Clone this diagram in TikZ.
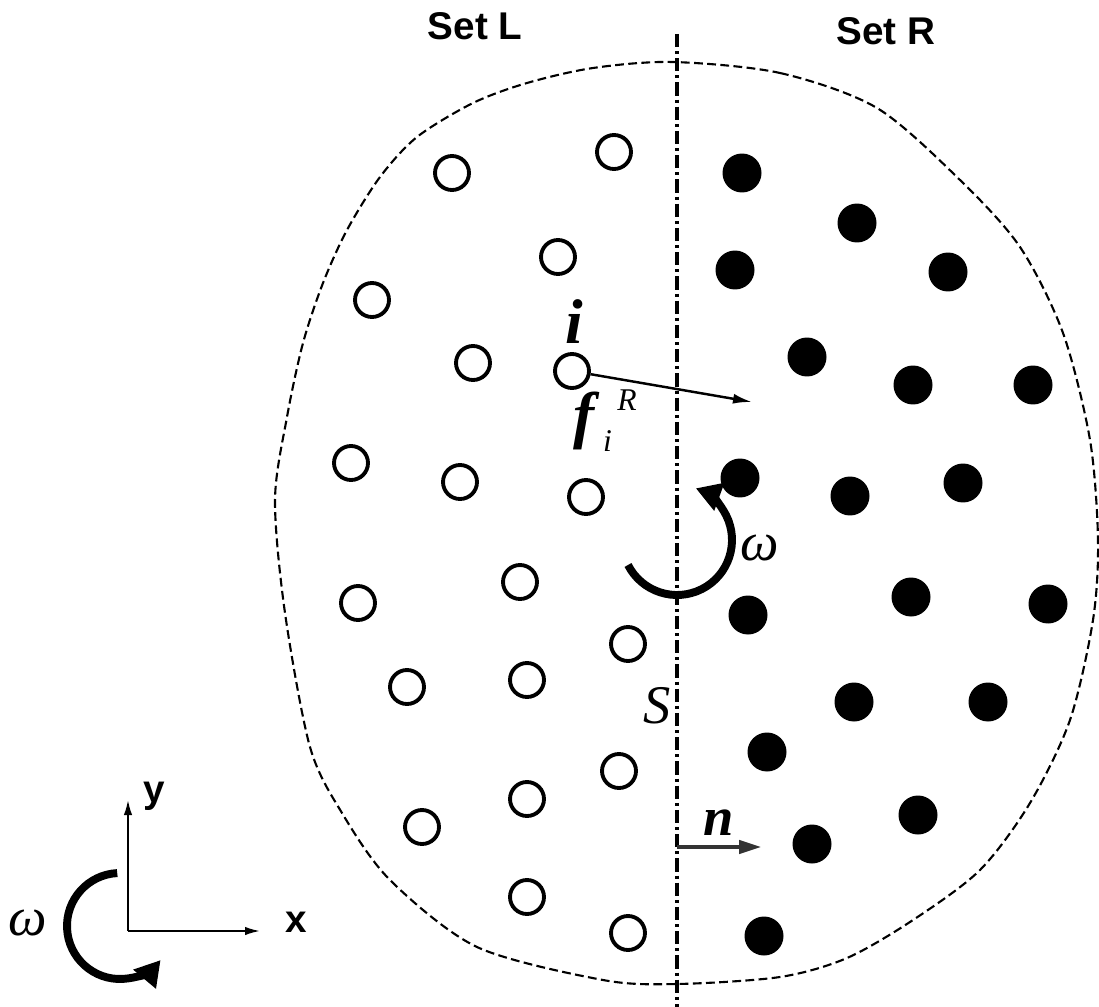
\documentclass[tikz,border=0pt]{standalone}
\usepackage{fontspec}
\setmainfont{Liberation Serif}
\newfontfamily\labelfont{Liberation Sans}
\usetikzlibrary{arrows.meta}

\begin{document}
\begin{tikzpicture}[x=0.02cm, y=-0.02cm,
  lp/.style = {draw, circle, line width=2.2pt, minimum size=0.68cm, inner sep=0pt},
  rp/.style = {fill, circle, minimum size=0.78cm, inner sep=0pt},
  setlabel/.style = {inner sep=0pt, anchor=base, font=\labelfont\bfseries\fontsize{22}{26}\selectfont},
  axlabel/.style = {inner sep=0pt, anchor=base west, font=\labelfont\bfseries\fontsize{22}{26}\selectfont},
  sym/.style = {inner sep=0pt, anchor=base west, font=\itshape\fontsize{31}{36}\selectfont},
  boldsym/.style = {sym, font=\bfseries\itshape\fontsize{31}{36}\selectfont},
  bigsym/.style = {sym, font=\bfseries\itshape\fontsize{36}{40}\selectfont},
  spin/.style = {line width=4.5pt, -{Triangle[length=0.5cm, width=0.56cm]}},
  axis/.style = {line width=1.1pt, -{Latex[length=0.3cm, width=0.17cm]}}]
  \useasboundingbox (0,0) rectangle (1099,1007);
  % outer boundary
  \draw[line width=1.2pt, dash pattern=on 5pt off 2.5pt] plot[smooth cycle] coordinates {
    (673,62) (780,73) (877,108) (960,180) (1020,247) (1063,333) (1090,440)
    (1098,540) (1093,620) (1070,720) (1030,803) (980,870) (913,920) (847,958)
    (780,977) (677,984) (603,980) (477,947) (390,880) (342,813) (310,747)
    (285,613) (275,500) (287,417) (303,343) (323,283) (347,230) (380,177)
    (417,137) (473,103) (527,83) (593,68)};
  % surface S
  \coordinate (stop) at (677,34);
  \coordinate (sbot) at (677,1007);
  \draw[line width=2.2pt, dash pattern=on 7.5pt off 2.3pt on 1.7pt off 2.3pt] (stop) to (sbot);
  % set L
  \node[lp] (l1) at (614,152) {};
  \node[lp] (l2) at (452,173) {};
  \node[lp] (l3) at (558,257) {};
  \node[lp] (l4) at (372,300) {};
  \node[lp] (l5) at (473,363) {};
  \node[lp] (l6) at (572,371) {};
  \node[lp] (l7) at (351,463) {};
  \node[lp] (l8) at (460,482) {};
  \node[lp] (l9) at (586,497) {};
  \node[lp] (l10) at (520,582) {};
  \node[lp] (l11) at (358,603) {};
  \node[lp] (l12) at (628,644) {};
  \node[lp] (l13) at (407,687) {};
  \node[lp] (l14) at (527,680) {};
  \node[lp] (l15) at (619,771) {};
  \node[lp] (l16) at (527,799) {};
  \node[lp] (l17) at (422,827) {};
  \node[lp] (l18) at (527,897) {};
  \node[lp] (l19) at (628,933) {};
  % set R
  \node[rp] (r1) at (742,173) {};
  \node[rp] (r2) at (857,223) {};
  \node[rp] (r3) at (735,270) {};
  \node[rp] (r4) at (948,272) {};
  \node[rp] (r5) at (807,357) {};
  \node[rp] (r6) at (913,385) {};
  \node[rp] (r7) at (1033,385) {};
  \node[rp] (r8) at (740,478) {};
  \node[rp] (r9) at (850,496) {};
  \node[rp] (r10) at (963,483) {};
  \node[rp] (r11) at (911,597) {};
  \node[rp] (r12) at (748,615) {};
  \node[rp] (r13) at (1048,604) {};
  \node[rp] (r14) at (854,702) {};
  \node[rp] (r15) at (988,702) {};
  \node[rp] (r16) at (767,752) {};
  \node[rp] (r17) at (918,815) {};
  \node[rp] (r18) at (812,844) {};
  \node[rp] (r19) at (764,936) {};
  % labels
  \node[setlabel] (setl) at (475,40) {Set L};
  \node[setlabel] (setr) at (886,45) {Set R};
  \node[bigsym, anchor=base] (ilab) at (574,343) {i};
  \node[bigsym] (flab) at (573,436) {f\kern5pt\rlap{\kern8pt\raisebox{14.7pt}{\fontsize{18}{18}\selectfont\mdseries R}}\raisebox{-9pt}{\fontsize{18}{18}\selectfont\mdseries i}};
  \node[sym] (wmid) at (740,560) {ω};
  \node[sym] (slab) at (643,723) {S};
  \node[boldsym] (nlab) at (703,835) {n};
  \node[sym] (wleft) at (8,935) {ω};
  \node[axlabel] (xlab) at (285,932) {x};
  \node[axlabel] (ylab) at (143,802) {y};
  % force on i
  \coordinate (ftip) at (752,402);
  \draw[line width=1.4pt, -{Latex[length=0.38cm, width=0.2cm]}] (l6) to (ftip);
  % normal n
  \coordinate (nbase) at (677,847);
  \coordinate (ntip) at (761,847);
  \draw[line width=1.8pt, black!80, -{Triangle[length=0.44cm, width=0.27cm]}] (nbase) to (ntip);
  % rotations
  \coordinate (spinm) at (677,540);
  \draw[spin] ([shift={(153:55)}]spinm) arc[start angle=153, end angle=-70, radius=55];
  \coordinate (spinl) at (120,926);
  \draw[spin] ([shift={(-93:53)}]spinl) arc[start angle=-93, end angle=-320, radius=53];
  % axes
  \coordinate (o) at (128,931);
  \coordinate (xe) at (260,931);
  \coordinate (ye) at (128,800);
  \draw[axis] (o) to (xe);
  \draw[axis] (o) to (ye);
\end{tikzpicture}
\end{document}
